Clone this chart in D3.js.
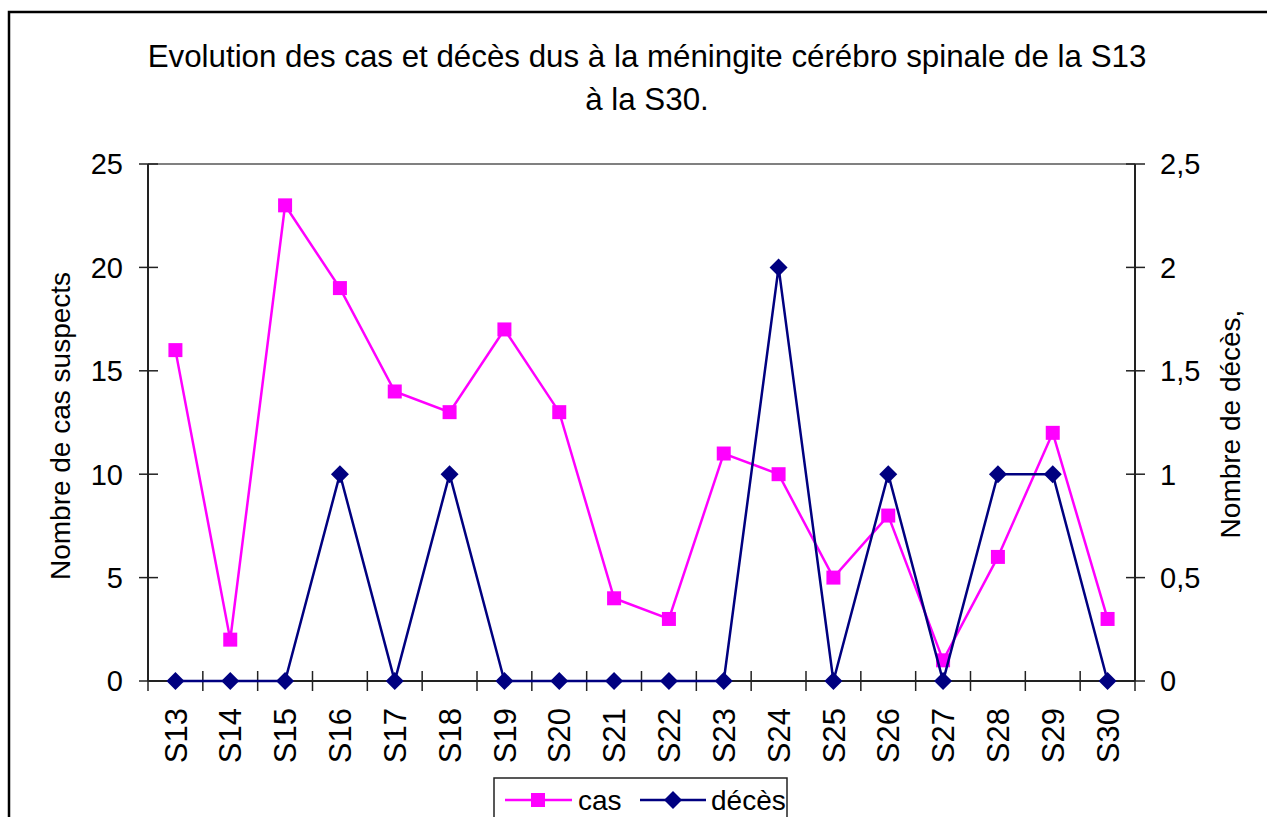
<!DOCTYPE html>
<html>
<head>
<meta charset="utf-8">
<script src="https://cdn.jsdelivr.net/npm/d3@7"></script>
<style>
  body { margin: 0; background: #fff; }
  svg { display: block; font-family: "Liberation Sans", Arial, sans-serif; }
</style>
</head>
<body>
<script>
// data
const weeks = ["S13","S14","S15","S16","S17","S18","S19","S20","S21","S22","S23","S24","S25","S26","S27","S28","S29","S30"];
const cas   = [16, 2, 23, 19, 14, 13, 17, 13, 4, 3, 11, 10, 5, 8, 1, 6, 12, 3];
const deces = [0, 0, 0, 1, 0, 1, 0, 0, 0, 0, 0, 2, 0, 1, 0, 1, 1, 0];
const leftTicks = [0, 5, 10, 15, 20, 25];
const rightTicks = [0, 0.5, 1, 1.5, 2, 2.5];

const width = 1267, height = 817;
const plot = {left: 148, right: 1135, top: 164, bottom: 681};

const svg = d3.select("body").append("svg").attr("width", width).attr("height", height);

// outer frame (cut off at right and bottom like the picture)
svg.append("rect").attr("x", 9).attr("y", 12).attr("width", 1300).attr("height", 900)
  .attr("fill", "none").attr("stroke", "#000").attr("stroke-width", 2.5);

// title
const title = svg.append("text").attr("text-anchor", "middle").attr("font-size", 31.3).attr("fill", "#000");
title.append("tspan").attr("x", 647).attr("y", 67).text("Evolution des cas et décès dus à la méningite cérébro spinale de la S13");
title.append("tspan").attr("x", 647).attr("y", 110).text("à la S30.");

const x = d3.scaleBand().domain(weeks).range([plot.left, plot.right]);
const yL = d3.scaleLinear().domain([0, 25]).range([plot.bottom, plot.top]);
const yR = d3.scaleLinear().domain([0, 2.5]).range([plot.bottom, plot.top]);
const cx = d => x(d) + x.bandwidth() / 2;

// plot area top border
svg.append("line").attr("x1", plot.left).attr("x2", plot.right).attr("y1", plot.top).attr("y2", plot.top)
  .attr("stroke", "#808080").attr("stroke-width", 2);

const axisColor = "#222";
// left axis
svg.append("line").attr("x1", plot.left).attr("x2", plot.left).attr("y1", plot.top).attr("y2", plot.bottom)
  .attr("stroke", axisColor).attr("stroke-width", 2);
svg.append("g").selectAll("line").data(leftTicks).join("line")
  .attr("x1", plot.left - 9).attr("x2", plot.left + 10).attr("y1", d => yL(d)).attr("y2", d => yL(d))
  .attr("stroke", axisColor).attr("stroke-width", 1.5);
svg.append("g").selectAll("text").data(leftTicks).join("text")
  .attr("x", 123).attr("y", d => yL(d)).attr("dy", "0.36em").attr("text-anchor", "end")
  .attr("font-size", 29).text(d => d);

// right axis
svg.append("line").attr("x1", plot.right).attr("x2", plot.right).attr("y1", plot.top).attr("y2", plot.bottom)
  .attr("stroke", axisColor).attr("stroke-width", 2);
svg.append("g").selectAll("line").data(rightTicks).join("line")
  .attr("x1", plot.right - 9).attr("x2", plot.right + 10).attr("y1", d => yR(d)).attr("y2", d => yR(d))
  .attr("stroke", axisColor).attr("stroke-width", 1.5);
svg.append("g").selectAll("text").data(rightTicks).join("text")
  .attr("x", 1160).attr("y", d => yR(d)).attr("dy", "0.36em").attr("text-anchor", "start")
  .attr("font-size", 29).text(d => String(d).replace(".", ","));

// bottom axis
svg.append("line").attr("x1", plot.left).attr("x2", plot.right).attr("y1", plot.bottom).attr("y2", plot.bottom)
  .attr("stroke", axisColor).attr("stroke-width", 2);
const bounds = weeks.map(w => x(w)).concat([plot.right]);
svg.append("g").selectAll("line").data(bounds).join("line")
  .attr("x1", d => d).attr("x2", d => d).attr("y1", plot.bottom - 10).attr("y2", plot.bottom + 10)
  .attr("stroke", axisColor).attr("stroke-width", 1.5);
svg.append("g").selectAll("text").data(weeks).join("text")
  .attr("transform", d => `translate(${cx(d)},708) rotate(-90)`)
  .attr("dy", "0.36em").attr("text-anchor", "end").attr("font-size", 31).text(d => d);

// axis titles
svg.append("text").attr("transform", "translate(60,426) rotate(-90)").attr("dy", "0.36em")
  .attr("text-anchor", "middle").attr("font-size", 28).text("Nombre de cas suspects");
svg.append("text").attr("transform", "translate(1230,424) rotate(-90)").attr("dy", "0.36em")
  .attr("text-anchor", "middle").attr("font-size", 28).text("Nombre de décès,");

// series: cas
const casColor = "#ff00ff", decesColor = "#000080";
const lineL = d3.line().x((d, i) => cx(weeks[i])).y(d => yL(d));
const lineR = d3.line().x((d, i) => cx(weeks[i])).y(d => yR(d));
svg.append("path").attr("d", lineL(cas)).attr("fill", "none").attr("stroke", casColor).attr("stroke-width", 2.5);
const sq = d3.symbol().type(d3.symbolSquare).size(196);
svg.append("g").selectAll("path").data(cas).join("path")
  .attr("transform", (d, i) => `translate(${cx(weeks[i])},${yL(d)})`)
  .attr("d", sq).attr("fill", casColor);

// series: deces
svg.append("path").attr("d", lineR(deces)).attr("fill", "none").attr("stroke", decesColor).attr("stroke-width", 2.5);
const diamond = "M0,-9L9,0L0,9L-9,0Z";
svg.append("g").selectAll("path").data(deces).join("path")
  .attr("transform", (d, i) => `translate(${cx(weeks[i])},${yR(d)})`)
  .attr("d", diamond).attr("fill", decesColor);

// legend
const lg = svg.append("g");
lg.append("rect").attr("x", 494).attr("y", 778).attr("width", 293).attr("height", 60)
  .attr("fill", "#fff").attr("stroke", "#222").attr("stroke-width", 1.5);
lg.append("line").attr("x1", 505).attr("x2", 572).attr("y1", 800).attr("y2", 800).attr("stroke", casColor).attr("stroke-width", 2.5);
lg.append("path").attr("transform", "translate(538,800)").attr("d", sq).attr("fill", casColor);
lg.append("text").attr("x", 578).attr("y", 800).attr("dy", "0.36em").attr("font-size", 28).text("cas");
lg.append("line").attr("x1", 640).attr("x2", 706).attr("y1", 800).attr("y2", 800).attr("stroke", decesColor).attr("stroke-width", 2.5);
lg.append("path").attr("transform", "translate(673,800)").attr("d", diamond).attr("fill", decesColor);
lg.append("text").attr("x", 711).attr("y", 800).attr("dy", "0.36em").attr("font-size", 28).text("décès");
</script>
</body>
</html>
